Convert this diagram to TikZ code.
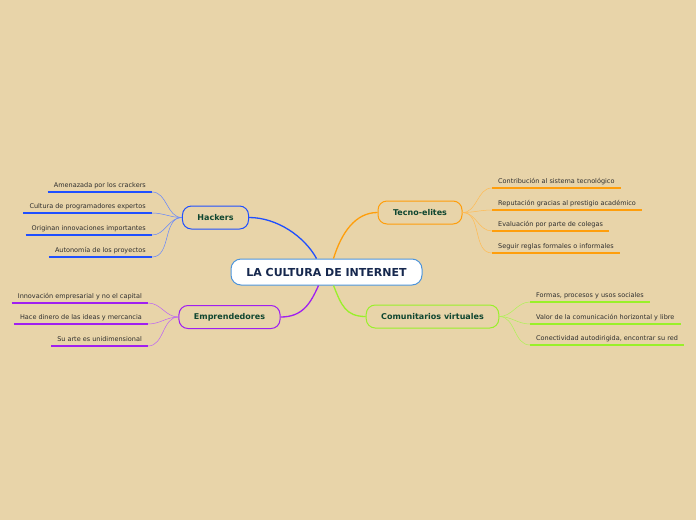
\documentclass[tikz,border=0pt]{standalone}
\usepackage{fontspec}
\setmainfont{DejaVu Sans}
\usepackage{tikz}
\usepackage{xcolor}

\definecolor{bgtan}{HTML}{E8D4A9}
\definecolor{hackblue}{HTML}{1F4FFF}
\definecolor{emprpurple}{HTML}{A01FF0}
\definecolor{tecorange}{HTML}{FF9E0B}
\definecolor{comgreen}{HTML}{99F02A}
\definecolor{centerblue}{HTML}{4D94DB}
\definecolor{labelgreen}{HTML}{0F4630}
\definecolor{centertext}{HTML}{16284E}
\definecolor{leaftext}{HTML}{2E2E2E}

\begin{document}
\begin{tikzpicture}[
    x=1pt, y=-1pt,
    root/.style={rectangle, rounded corners=10pt, draw=centerblue, line width=1pt, fill=white, minimum width=191pt, minimum height=26pt, font=\fontsize{11}{12}\selectfont\bfseries, text=centertext},
    topic/.style={rectangle, rounded corners=9pt, draw, line width=1pt, minimum height=23pt, inner xsep=15pt, font=\fontsize{8}{10}\selectfont\bfseries, text=labelgreen},
    leaf/.style={inner xsep=6pt, inner ysep=2.5pt, text height=5pt, text depth=1.5pt, font=\fontsize{6.5}{8}\selectfont, text=leaftext},
    leafL/.style={leaf, anchor=south east},
    leafR/.style={leaf, anchor=south west},
    branch/.style={line width=1.3pt},
    twig/.style={line width=0.5pt},
    under/.style={line width=2pt}
  ]
    \fill[bgtan] (0,0) rectangle (696,520);
    \useasboundingbox (0,0) rectangle (696,520);

    \node[root] (root) at (326.5,272) {LA CULTURA DE INTERNET};
    \node[topic, draw=hackblue] (hackers) at (215.5,217.5) {Hackers};
    \node[topic, draw=emprpurple] (empr) at (229.5,317) {Emprendedores};
    \node[topic, draw=tecorange] (tecno) at (420,212.5) {Tecno-elites};
    \node[topic, draw=comgreen] (comun) at (432.5,316.5) {Comunitarios virtuales};

    % hackers
    \node[leafL] (h1) at (152,192) {Amenazada por los crackers};
    \node[leafL] (h2) at (152,213) {Cultura de programadores expertos};
    \node[leafL] (h3) at (152,235) {Originan innovaciones importantes};
    \node[leafL] (h4) at (152,257) {Autonomía de los proyectos};
    % emprendedores
    \node[leafL] (e1) at (148,303) {Innovación empresarial y no el capital};
    \node[leafL] (e2) at (148,324) {Hace dinero de las ideas y mercancia};
    \node[leafL] (e3) at (148,346) {Su arte es unidimensional};
    % tecno-elites
    \node[leafR] (t1) at (492,188) {Contribución al sistema tecnológico};
    \node[leafR] (t2) at (492,210) {Reputación gracias al prestigio académico};
    \node[leafR] (t3) at (492,231) {Evaluación por parte de colegas};
    \node[leafR] (t4) at (492,253) {Seguir reglas formales o informales};
    % comunitarios
    \node[leafR] (c1) at (530,302) {Formas, procesos y usos sociales};
    \node[leafR] (c2) at (530,324) {Valor de la comunicación horizontal y libre};
    \node[leafR] (c3) at (530,345) {Conectividad autodirigida, encontrar su red};

    \draw[branch, hackblue] ([xshift=-10pt]root.north) .. controls +(-12,-22) and +(28,0) .. (hackers.east);
    \draw[branch, tecorange] ([xshift=7pt]root.north) .. controls +(8,-26) and +(-22,0) .. (tecno.west);
    \draw[branch, emprpurple] ([xshift=-8pt]root.south) .. controls +(-8,18) and +(22,0) .. (empr.east);
    \draw[branch, comgreen] ([xshift=7pt]root.south) .. controls +(8,20) and +(-20,0) .. (comun.west);

    \foreach \n in {h1,h2,h3,h4} {
      \draw[under, hackblue] (\n.south west) -- (\n.south east);
      \draw[twig, hackblue!70] (\n.south east) to[out=0,in=180] (hackers.west);
    }
    \foreach \n in {e1,e2,e3} {
      \draw[under, emprpurple] (\n.south west) -- (\n.south east);
      \draw[twig, emprpurple!70] (\n.south east) to[out=0,in=180] (empr.west);
    }
    \foreach \n in {t1,t2,t3,t4} {
      \draw[under, tecorange] (\n.south west) -- (\n.south east);
      \draw[twig, tecorange!70] (tecno.east) to[out=0,in=180] (\n.south west);
    }
    \foreach \n in {c1,c2,c3} {
      \draw[under, comgreen] (\n.south west) -- (\n.south east);
      \draw[twig, comgreen!80] (comun.east) to[out=0,in=180] (\n.south west);
    }
  \end{tikzpicture}
\end{document}
